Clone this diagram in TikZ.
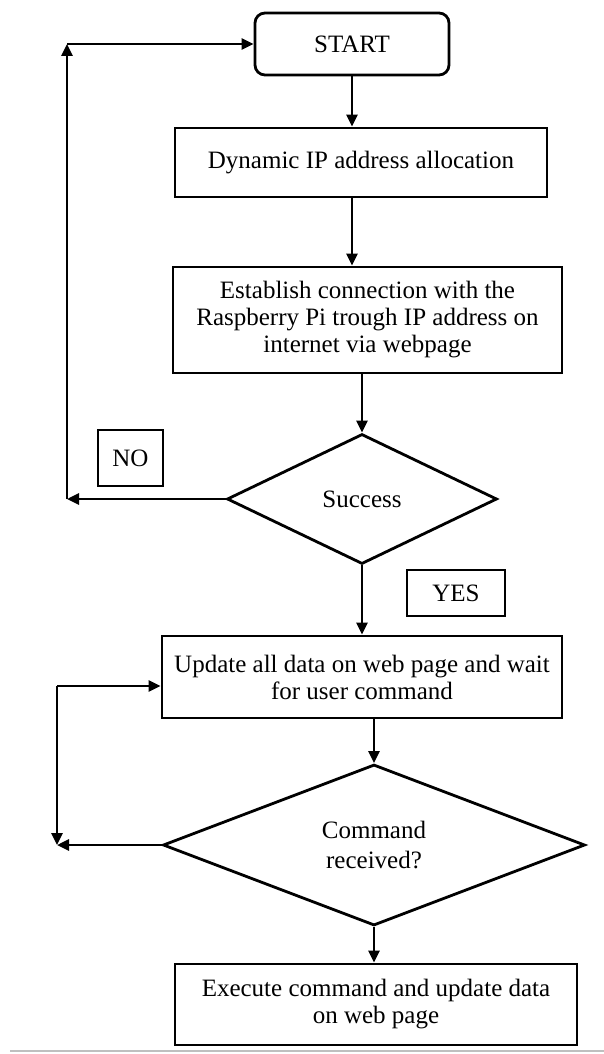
\documentclass[tikz,border=0pt]{standalone}
\usepackage{fontspec}
\setmainfont{Liberation Serif}
\usetikzlibrary{arrows.meta,shapes.geometric}

\begin{document}
\begin{tikzpicture}[
    x=0.5pt, y=-0.5pt,
    line width=1.4pt,
    blk/.style={draw, align=center, font=\fontsize{12.5}{13.5}\selectfont, inner sep=2pt},
    dec/.style={draw, diamond, shape aspect=2, align=center, font=\fontsize{12.5}{15}\selectfont, inner sep=0pt},
    lbl/.style={draw, font=\fontsize{12.5}{13.5}\selectfont, inner sep=0pt},
    arr/.style={-{Triangle[length=6pt, width=5.5pt]}}
]
\useasboundingbox (0,0) rectangle (604,1054);
\node[blk, rounded corners=5pt, minimum width=97pt, minimum height=31pt] (start) at (352,44) {START};
\node[blk, minimum width=186pt, minimum height=34.5pt] (alloc) at (361,162.5) {Dynamic IP address allocation};
\node[blk, minimum width=194.5pt, minimum height=53pt] (conn) at (367.5,320) {Establish connection with the\\ Raspberry Pi trough IP address on\\ internet via webpage};
\node[dec, minimum width=135pt, minimum height=65pt] (succ) at (362,499) {Success};
\node[lbl, minimum width=32.5pt, minimum height=28pt] (no) at (130.5,458) {NO};
\node[lbl, minimum width=49pt, minimum height=23pt] (yes) at (456,593) {YES};
\node[blk, minimum width=200pt, minimum height=41pt] (wait) at (362,677) {Update all data on web page and wait\\ for user command};
\node[dec, minimum width=211pt, minimum height=80.5pt] (cmd) at (374,845) {Command\\ received?};
\node[blk, minimum width=201pt, minimum height=40.5pt] (exec) at (376,1004.5) {Execute command and update data\\ on web page};
\coordinate (lp0) at (67,44);
\coordinate (lp1) at (67,499);
\coordinate (lp3) at (57,686);
\coordinate (lp2) at (57,845);
\draw[arr] (start.south) -- (start.south |- alloc.north);
\draw[arr] (alloc.south -| start.south) -- (conn.north -| start.south);
\draw[arr] (conn.south -| succ.north) -- (succ.north);
\draw[arr] (succ.west) -- (lp1);
\draw[arr] (lp1) -- (lp0);
\draw[arr] (lp0) -- (start.west);
\draw[arr] (succ.south) -- (wait.north);
\draw[arr] (wait.south -| cmd.north) -- (cmd.north);
\draw[arr] (cmd.south) -- (cmd.south |- exec.north);
\draw[arr] (cmd.west) -- (lp2);
\draw[arr] (lp3) -- (lp2);
\draw[arr] (lp3) -- (lp3 -| wait.west);
\draw[gray!50, line width=1pt] (10,1051) -- (604,1051);
\end{tikzpicture}
\end{document}
